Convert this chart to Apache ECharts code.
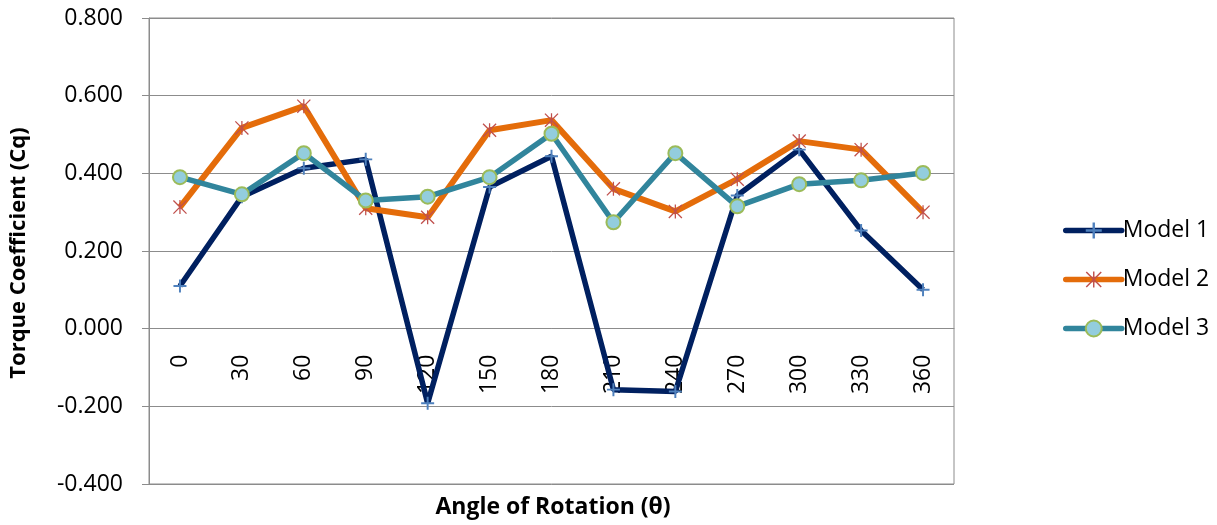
<!DOCTYPE html>
<html>
<head>
<meta charset="utf-8">
<script src="https://cdn.jsdelivr.net/npm/echarts@6/dist/echarts.min.js"></script>
<style>html,body{margin:0;padding:0;background:#fff;}#c{width:1217px;height:525px;}</style>
</head>
<body>
<div id="c"></div>
<script>
const categories = ['0','30','60','90','120','150','180','210','240','270','300','330','360'];
const model1 = [0.110, 0.340, 0.413, 0.436, -0.192, 0.365, 0.444, -0.157, -0.162, 0.343, 0.461, 0.253, 0.100];
const model2 = [0.313, 0.517, 0.573, 0.310, 0.287, 0.511, 0.537, 0.360, 0.302, 0.385, 0.483, 0.461, 0.300];
const model3 = [0.390, 0.346, 0.452, 0.330, 0.340, 0.390, 0.502, 0.274, 0.452, 0.315, 0.372, 0.382, 0.401];
const yTicks = {min: -0.4, max: 0.8, interval: 0.2};

const FONT = '"Open Sans", "Noto Sans", sans-serif';
const plusPath = 'path://M8.5,0h3v8.5h8.5v3h-8.5v8.5h-3v-8.5h-8.5v-3h8.5z';
const starPath = 'path://M9.1,0h1.8v20h-1.8z M0,1.3L1.3,0L20,18.7L18.7,20z M18.7,0L20,1.3L1.3,20L0,18.7z';

const H = 525, GRID_TOP = 18, GRID_BOTTOM = 41;
const plotH = H - GRID_TOP - GRID_BOTTOM;
// place the category axis where the value axis crosses zero
const zeroOffset = -((0 - yTicks.min) / (yTicks.max - yTicks.min)) * plotH;

const chart = echarts.init(document.getElementById('c'));
chart.setOption({
  animation: false,
  backgroundColor: '#ffffff',
  textStyle: {fontFamily: FONT},
  grid: {left: 149, right: 263, top: GRID_TOP, bottom: GRID_BOTTOM, show: true, borderColor: '#8c8c8c', borderWidth: 1,
         containLabel: false, outerBoundsMode: 'none'},
  legend: {
    orient: 'vertical', left: 1058, top: 214, itemWidth: 56, itemHeight: 20, itemGap: 26,
    lineStyle: {width: 5.5, cap: 'round'},
    textStyle: {fontSize: 23, color: '#000', fontFamily: FONT, padding: [0,0,0,-4]},
    data: ['Model 1','Model 2','Model 3']
  },
  xAxis: {
    type: 'category', data: categories, boundaryGap: true, position: 'bottom', offset: zeroOffset, z: 0,
    axisLine: {show: true, onZero: false, lineStyle: {color: '#8c8c8c', width: 1}},
    axisTick: {show: false},
    axisLabel: {rotate: 90, margin: 26, fontSize: 23, color: '#000', fontFamily: FONT, interval: 0},
    splitLine: {show: false}
  },
  yAxis: {
    type: 'value', min: yTicks.min, max: yTicks.max, interval: yTicks.interval,
    axisLine: {show: true, lineStyle: {color: '#8c8c8c', width: 1}},
    axisTick: {show: true, inside: false, length: 7, lineStyle: {color: '#8c8c8c'}},
    axisLabel: {margin: 26, fontSize: 23, color: '#000', fontFamily: FONT, formatter: v => v.toFixed(3)},
    splitLine: {show: true, lineStyle: {color: '#8c8c8c', width: 1}}
  },
  series: [
    {name: 'Model 1', type: 'line', data: model1, z: 2,
     lineStyle: {color: '#002060', width: 5.5}, itemStyle: {color: '#4f81bd'},
     symbol: plusPath, symbolSize: 13, showAllSymbol: true},
    {name: 'Model 2', type: 'line', data: model2, z: 3,
     lineStyle: {color: '#e46c0a', width: 6}, itemStyle: {color: '#c0504d'},
     symbol: starPath, symbolSize: 14, showAllSymbol: true},
    {name: 'Model 3', type: 'line', data: model3, z: 4,
     lineStyle: {color: '#31859c', width: 5.5}, itemStyle: {color: '#93cddd', borderColor: '#9bbb59', borderWidth: 2},
     symbol: 'circle', symbolSize: 14, showAllSymbol: true}
  ],
  graphic: [
    {type: 'text', x: 553, y: 507, style: {text: 'Angle of Rotation (θ)', font: 'bold 23px ' + FONT, fill: '#000', align: 'center', verticalAlign: 'middle'}},
    {type: 'text', x: 19, y: 253, rotation: Math.PI/2, style: {text: 'Torque Coefficient (Cq)', font: 'bold 22px ' + FONT, fill: '#000', align: 'center', verticalAlign: 'middle'}}
  ]
});
</script>
</body>
</html>
